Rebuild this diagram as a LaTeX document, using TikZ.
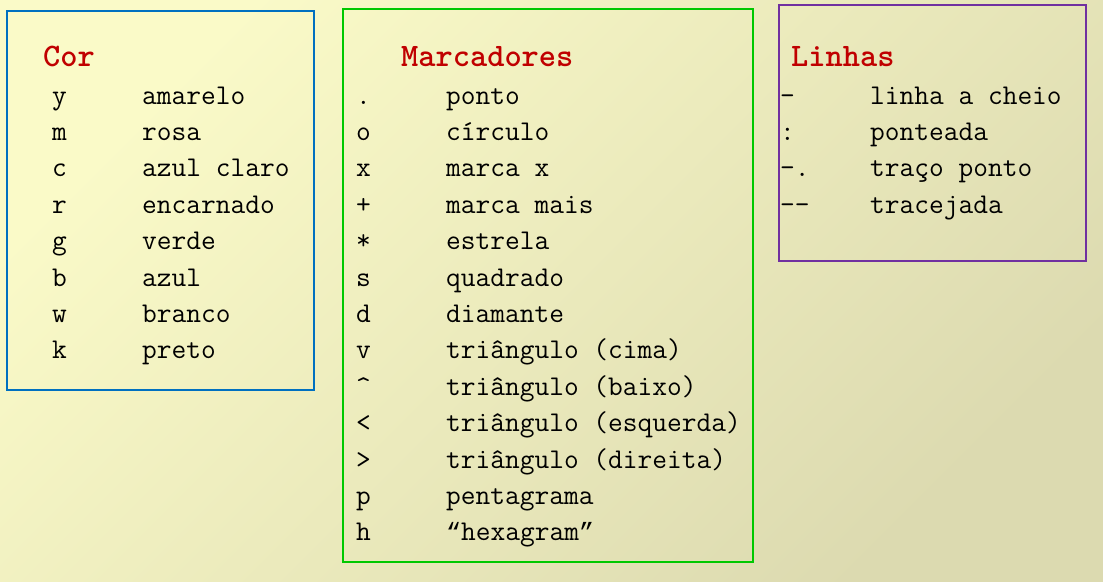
\documentclass[tikz,border=0pt]{standalone}
\usepackage{fontspec}
\newfontfamily\quotefont{Liberation Mono}
\usepackage{xcolor}
\usepackage{tikz}
\usetikzlibrary{positioning}
\definecolor{BgLight}{RGB}{250,250,200}
\definecolor{BgDark}{RGB}{220,218,176}
\definecolor{TitleRed}{RGB}{192,0,0}
\definecolor{CorBlue}{RGB}{0,112,192}
\definecolor{MarkGreen}{RGB}{0,200,0}
\definecolor{LineViolet}{RGB}{112,48,160}
\tikzset{
    boxframe/.style={line width=1.6pt},
    headtext/.style={anchor=base west, inner sep=0pt, text=TitleRed, font=\ttfamily\bfseries\fontsize{32.8}{34}\selectfont},
    keytext/.style={anchor=base west, inner sep=0pt, text=black, font=\ttfamily\fontsize{28.6}{30}\selectfont},
    nametext/.style={keytext}
}

\begin{document}
\begin{tikzpicture}[x=1pt, y=-1pt]
    % fundo
    \useasboundingbox (0,0) rectangle (1103,581);
    \shade[top color=BgLight, bottom color=BgDark, shading angle=45] (0,0) rectangle (1103,581);

    % 1. COR
    \draw[boxframe, CorBlue] (7,11) rectangle (314,390);
    \node[headtext] (cor) at (43,66) {Cor};
    \foreach \k/\n [count=\i] in {y/amarelo, m/rosa, c/azul claro, r/encarnado,
                                   g/verde, b/azul, w/branco, k/preto} {
        \node[keytext] (cork\i) at (52,{104+(\i-1)*36.4}) {\k};
        \node[nametext] (corn\i) at (142,{104+(\i-1)*36.4}) {\n};
    }

    % 2. MARCADORES
    \draw[boxframe, MarkGreen] (343,9) rectangle (753,562);
    \node[headtext] (marc) at (401,66) {Marcadores};
    \foreach \k/\n [count=\i] in {./ponto, o/círculo, x/marca x, +/marca mais,
                                   */estrela, s/quadrado, d/diamante,
                                   v/triângulo (cima), \textasciicircum/triângulo (baixo),
                                   </triângulo (esquerda), >/triângulo (direita),
                                   p/pentagrama, h/{{\quotefont\fontsize{25}{27}\selectfont “}hexagram{\quotefont\fontsize{25}{27}\selectfont ”}}} {
        \node[keytext] (marck\i) at (356,{104+(\i-1)*36.4}) {\k};
        \node[nametext] (marcn\i) at (446,{104+(\i-1)*36.4}) {\n};
    }

    % 3. LINHAS
    \draw[boxframe, LineViolet] (779,5) rectangle (1086,261);
    \node[headtext] (lin) at (791,66) {Linhas};
    \foreach \k/\n [count=\i] in {-/linha a cheio, :/ponteada, -./traço ponto, -{}-/tracejada} {
        \node[keytext] (link\i) at (780,{104+(\i-1)*36.4}) {\k};
        \node[nametext] (linn\i) at (870,{104+(\i-1)*36.4}) {\n};
    }
\end{tikzpicture}
\end{document}
